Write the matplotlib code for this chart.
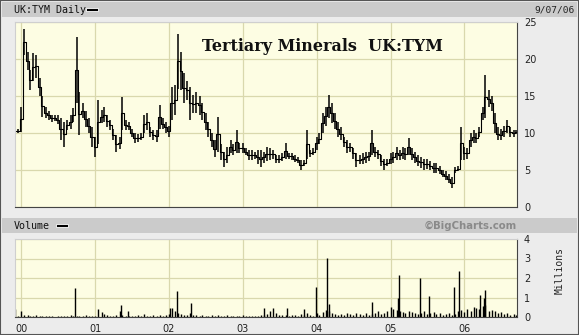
import numpy as np
import pandas as pd
import matplotlib
matplotlib.use("Agg")
import matplotlib.pyplot as plt
from matplotlib.patches import Rectangle

# semi-monthly price ranges (pence), Dec 1999 .. Sep 2006
dates = pd.date_range("1999-12-01", "2006-09-16", freq="SMS")
low = [10.0, 10.0, 10.2, 20.5, 18.5, 15.8, 17.0, 17.5, 15.0, 12.2, 12.0, 11.8, 11.5, 11.6, 11.2, 9.0, 8.1, 10.4, 10.5, 11.5,
       14.0, 9.7, 12.0, 10.8, 10.0, 8.1, 6.8, 8.5, 11.3, 11.5, 10.8, 10.4, 9.0, 7.4, 7.8, 10.4, 10.4, 10.4, 9.5, 8.6,
       8.8, 9.0, 10.0, 10.4, 9.5, 9.0, 8.8, 10.5, 10.5, 10.0, 9.5, 11.8, 12.5, 16.0, 15.8, 14.0, 14.5, 11.8, 12.7, 12.7,
       12.5, 11.8, 10.4, 9.5, 8.1, 6.8, 7.5, 6.4, 5.4, 6.0, 7.3, 7.0, 7.3, 7.3, 7.3, 7.0, 6.4, 6.4, 6.5, 5.8,
       5.4, 6.0, 6.2, 6.4, 6.5, 6.0, 5.9, 6.2, 6.5, 6.5, 6.4, 6.1, 6.0, 5.0, 5.5, 6.5, 6.8, 7.0, 7.7, 8.5,
       10.0, 11.0, 12.0, 11.3, 10.5, 9.5, 9.0, 8.1, 7.3, 7.5, 6.5, 5.4, 5.8, 5.8, 6.0, 6.2, 7.0, 6.8, 6.5, 5.5,
       5.0, 5.5, 5.8, 6.0, 6.4, 6.4, 6.5, 6.4, 7.0, 6.4, 6.0, 5.5, 5.3, 5.0, 5.2, 5.0, 4.6, 4.6, 4.5, 4.0,
       3.6, 3.2, 2.6, 4.6, 4.8, 6.4, 6.4, 6.5, 8.1, 8.6, 8.6, 9.5, 11.8, 12.0, 13.5, 13.0, 10.0, 9.0, 9.0, 9.5,
       10.0, 9.5, 9.5, 9.8]
high = [10.6, 10.6, 13.5, 24.0, 21.0, 18.5, 20.8, 20.5, 17.5, 15.0, 13.5, 13.0, 12.5, 12.5, 12.4, 12.0, 11.5, 11.8, 12.5, 13.4,
        23.0, 15.5, 14.0, 13.0, 12.0, 10.8, 9.5, 14.5, 13.1, 13.5, 12.5, 11.8, 10.5, 9.7, 9.5, 14.9, 11.8, 11.5, 10.5, 10.0,
        9.8, 10.0, 12.4, 12.7, 10.8, 10.4, 10.4, 13.8, 12.0, 11.5, 11.0, 16.2, 16.5, 23.4, 21.0, 18.1, 17.0, 16.2, 15.1, 15.5,
        15.0, 14.0, 12.7, 11.5, 10.0, 9.0, 12.2, 8.5, 7.5, 8.1, 9.0, 8.5, 10.4, 8.6, 8.6, 8.0, 7.7, 7.7, 7.5, 7.7,
        7.7, 7.5, 8.1, 8.0, 7.7, 7.0, 7.0, 7.3, 8.6, 7.3, 7.3, 7.0, 6.8, 6.4, 6.4, 10.4, 7.7, 8.0, 9.5, 10.0,
        12.7, 13.5, 15.1, 14.0, 12.7, 11.5, 10.8, 9.5, 9.0, 8.6, 8.0, 7.3, 7.0, 7.3, 7.5, 7.5, 10.4, 8.1, 7.7, 7.0,
        6.5, 6.5, 7.3, 7.5, 8.1, 7.7, 8.1, 8.0, 9.3, 8.0, 7.5, 7.0, 6.8, 6.5, 6.5, 6.2, 6.0, 5.9, 5.5, 5.0,
        4.8, 4.5, 4.0, 5.4, 5.5, 10.8, 8.1, 8.0, 10.0, 10.4, 10.0, 10.8, 13.5, 17.8, 15.8, 15.0, 12.7, 10.8, 10.5, 11.0,
        11.8, 10.8, 10.4, 10.4]

# volume (millions) on the same dates, plus single-day spikes
volume = [0.4, 0.05, 0.3, 0.08, 0.1, 0.05, 0.06, 0.1, 0.05, 0.04, 0.05, 0.03, 0.05, 0.02, 0.04, 0.05, 0.06, 0.05, 0.08, 0.04, 0.06, 0.05, 0.06, 0.1,
          0.05, 0.06, 0.05, 0.4, 0.25, 0.15, 0.1, 0.04, 0.05, 0.08, 0.3, 0.1, 0.05, 0.06, 0.04, 0.05, 0.1, 0.05, 0.15, 0.06, 0.05, 0.1, 0.05, 0.08,
          0.06, 0.1, 0.15, 0.48, 0.3, 0.2, 0.15, 0.1, 0.08, 0.2, 0.12, 0.1, 0.06, 0.08, 0.05, 0.06, 0.1, 0.05, 0.08, 0.06, 0.05, 0.08, 0.06, 0.05,
          0.06, 0.05, 0.08, 0.06, 0.05, 0.04, 0.06, 0.05, 0.08, 0.1, 0.15, 0.3, 0.45, 0.2, 0.1, 0.08, 0.1, 0.06, 0.08, 0.1, 0.05, 0.15, 0.08, 0.2,
          0.1, 0.05, 0.2, 0.1, 0.25, 0.35, 0.3, 0.2, 0.15, 0.1, 0.15, 0.1, 0.2, 0.15, 0.1, 0.2, 0.15, 0.1, 0.2, 0.1, 0.15, 0.2, 0.3, 0.15,
          0.2, 0.3, 0.5, 0.4, 0.35, 0.3, 0.25, 0.2, 0.3, 0.25, 0.2, 0.15, 0.2, 0.3, 0.15, 0.2, 0.25, 0.15, 0.2, 0.1, 0.15, 0.2, 0.1, 0.15,
          0.3, 0.35, 0.25, 0.4, 0.3, 0.5, 0.45, 0.4, 0.55, 0.6, 0.3, 0.35, 0.3, 0.2, 0.25, 0.15, 0.2, 0.1, 0.15, 0.1]
spike_dates = pd.to_datetime(["2000-09-23", "2001-05-10", "2001-06-13", "2002-01-08", "2002-02-09", "2002-04-20",
                              "2003-04-16", "2003-08-08", "2003-11-01", "2003-12-30", "2004-02-23", "2004-03-03",
                              "2004-10-03", "2005-02-04", "2005-02-12", "2005-05-26", "2005-07-09", "2005-11-12",
                              "2005-12-07", "2006-03-21", "2006-04-06", "2006-04-15"])
spike_vol = [1.48, 0.6, 0.3, 0.48, 1.33, 0.7, 0.48, 0.48, 0.43, 1.53, 3.03, 0.65,
             0.78, 0.95, 2.16, 1.98, 1.07, 1.53, 2.36, 1.12, 0.95, 1.38]

year_ticks = pd.to_datetime(["2000-01-01", "2001-01-01", "2002-01-01", "2003-01-01",
                             "2004-01-01", "2005-01-01", "2006-01-01"])
year_labels = ["00", "01", "02", "03", "04", "05", "06"]

W, H = 579, 335
fig = plt.figure(figsize=(W / 100, H / 100), dpi=100, facecolor="#ececec")

def px(x0, y0, x1, y1):
    return [x0 / W, 1 - y1 / H, (x1 - x0) / W, (y1 - y0) / H]

# frame and header bars
fig.patches.append(Rectangle((0, 0), 1, 1, transform=fig.transFigure, fill=False,
                             edgecolor="#555555", lw=1.5))
for y0, y1 in [(2, 17), (218, 233)]:
    fig.patches.append(Rectangle((2 / W, 1 - y1 / H), (W - 4) / W, (y1 - y0) / H,
                                 transform=fig.transFigure, facecolor="#cbcbcb", edgecolor="none"))

mono = "DejaVu Sans Mono"
fig.text(14 / W, 1 - 10 / H, "UK:TYM Daily", family=mono, fontsize=7.2, va="center", color="#111111")
fig.patches.append(Rectangle((86 / W, 1 - 11 / H), 12 / W, 3 / H, transform=fig.transFigure,
                             facecolor="black", edgecolor="white", lw=0.6))
fig.text(534 / W, 1 - 10 / H, "9/07/06", family=mono, fontsize=6.8, va="center", color="#222222")
fig.text(14 / W, 1 - 226 / H, "Volume", family=mono, fontsize=7.2, va="center", color="#111111")
fig.patches.append(Rectangle((56 / W, 1 - 227 / H), 12 / W, 3 / H, transform=fig.transFigure,
                             facecolor="black", edgecolor="white", lw=0.6))
fig.text(470 / W, 1 - 226 / H, "\u00a9BigCharts.com", fontsize=7.3, fontweight="bold",
         va="center", ha="center", color="#8a8a8a")

bg = "#fdfde3"
gridc = "#d9d8ad"
xmin, xmax = pd.Timestamp("1999-12-01"), pd.Timestamp("2006-09-18")

ax = fig.add_axes(px(15, 22, 517, 207), facecolor=bg)
ax.vlines(dates, low, high, color="black", lw=1.1)
mid = [(a + b) / 2 for a, b in zip(low, high)]
ax.step(dates, mid, where="mid", color="black", lw=0.8)
ax.set_xlim(xmin, xmax)
ax.set_ylim(0, 25)
ax.yaxis.tick_right()
ax.set_yticks([0, 5, 10, 15, 20, 25])
ax.set_xticks(year_ticks)
ax.set_xticklabels([])
ax.tick_params(length=0, labelsize=7, colors="#222222", pad=5)
ax.grid(True, color=gridc, lw=0.9)
ax.set_axisbelow(True)
for s in ax.spines.values():
    s.set_color("#cfcfcf")
ax.spines["bottom"].set_color("#444444")
ax.spines["right"].set_color("#444444")
ax.text(0.612, 0.87, "Tertiary Minerals  UK:TYM", transform=ax.transAxes, ha="center", va="center",
        family="DejaVu Serif", fontweight="bold", fontsize=11.5, color="#111111")

axv = fig.add_axes(px(15, 239, 517, 317), facecolor=bg)
axv.vlines(dates, 0, volume, color="black", lw=1.0)
axv.vlines(spike_dates, 0, spike_vol, color="black", lw=1.0)
axv.set_xlim(xmin, xmax)
axv.set_ylim(0, 4)
axv.yaxis.tick_right()
axv.set_yticks([0, 1, 2, 3, 4])
axv.set_xticks(year_ticks)
axv.set_xticklabels(year_labels)
axv.tick_params(length=0, labelsize=7, colors="#222222", pad=5)
axv.grid(True, color=gridc, lw=0.9)
axv.set_axisbelow(True)
for s in axv.spines.values():
    s.set_color("#cfcfcf")
axv.spines["bottom"].set_color("#444444")
axv.spines["right"].set_color("#444444")
fig.text(560 / W, 1 - 270 / H, "Millions", rotation=90, family=mono, fontsize=7,
         va="center", ha="center", color="#222222")

fig.savefig("out.png", dpi=100, facecolor=fig.get_facecolor())
